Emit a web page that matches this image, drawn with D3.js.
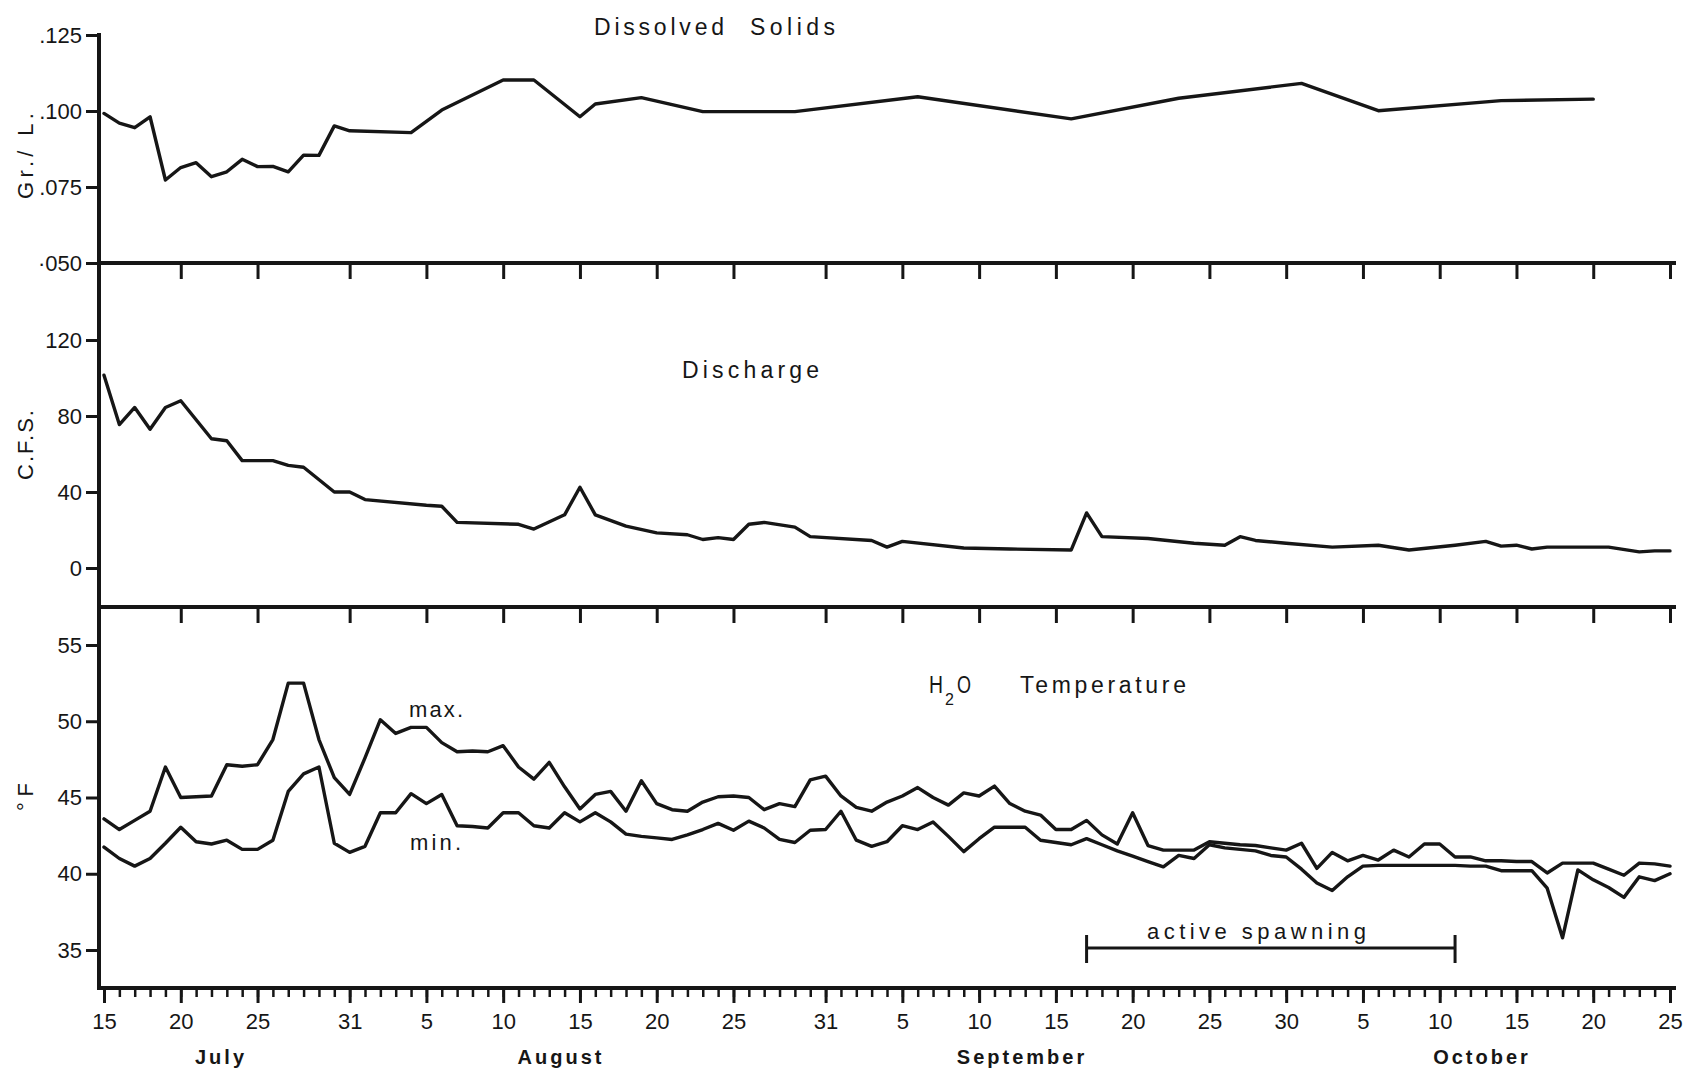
<!DOCTYPE html>
<html>
<head>
<meta charset="utf-8">
<script src="https://cdn.jsdelivr.net/npm/d3@7"></script>
<style>
  html, body { margin: 0; padding: 0; background: #fff; }
  svg { display: block; }
  text { font-family: "Liberation Sans", Arial, sans-serif; fill: #161616; }
</style>
</head>
<body>
<svg id="chart" width="1690" height="1073"></svg>
<script>
// ---- Season calendar: day 0 = July 15, day 102 = October 25 ----
const tickDays   = [0, 5, 10, 16, 21, 26, 31, 36, 41, 47, 52, 57, 62, 67, 72, 77, 82, 87, 92, 97, 102];
const tickLabels = ["15","20","25","31","5","10","15","20","25","31","5","10","15","20","25","30","5","10","15","20","25"];
const months     = ["July", "August", "September", "October"];

// ---- Dissolved solids, grams per litre ----
const solidsDay = [0, 1, 2, 3, 4, 5, 6, 7, 8, 9, 10, 11, 12, 13, 14, 15, 16, 20, 22, 26, 28, 31, 32, 35, 39, 45, 53, 63, 70, 78, 83, 91, 97];
const solidsGrL = [0.0992, 0.0960, 0.0945, 0.0981, 0.0773, 0.0814, 0.0830, 0.0784, 0.0800, 0.0841, 0.0817, 0.0818, 0.0800, 0.0855, 0.0854,
                   0.0951, 0.0935, 0.0929, 0.1003, 0.1102, 0.1102, 0.0981, 0.1023, 0.1044, 0.0998, 0.0998, 0.1047, 0.0974, 0.1042,
                   0.1091, 0.1001, 0.1034, 0.1039];
const solidsTicks      = [0.125, 0.100, 0.075, 0.050];
const solidsTickLabels = [".125", ".100", ".075", "\u00b7050"];

// ---- Discharge, cubic feet per second ----
const dischargeDay = [0, 1, 2, 3, 4, 5, 6, 7, 8, 9, 11, 12, 13, 15, 16, 17, 21, 22, 23, 27, 28, 30, 31, 32, 34, 36, 38, 39, 40, 41, 42, 43,
                      45, 46, 50, 51, 52, 56, 59, 63, 64, 65, 68, 71, 73, 74, 75, 77, 80, 83, 85, 88, 90, 91, 92, 93, 94, 98, 100, 101, 102];
const dischargeCfs = [101.5, 75.5, 84.5, 73, 84.5, 88, 78, 68, 67, 56.5, 56.5, 54, 53, 40, 40, 36, 33, 32.5, 24, 23, 20.5, 28, 42.5, 28,
                      22, 18.5, 17.5, 15, 16, 15, 23, 24, 21.5, 16.5, 14.5, 11, 14, 10.5, 10, 9.5, 29, 16.5, 15.5, 13, 12, 16.5, 14.5, 13,
                      11, 12, 9.5, 12, 14, 11.5, 12, 10, 11, 11, 8.5, 9, 9];
const dischargeTicks = [0, 40, 80, 120];

// ---- Water temperature, daily maximum and minimum, degrees F ----
const tempMax = [
  43.6, 42.9, 43.5, 44.1, 47.0, 45.0, 45.05, 45.1, 47.15, 47.05,
  47.15, 48.8, 52.5, 52.5, 48.8, 46.3, 45.2, 47.6, 50.1, 49.2,
  49.6, 49.6, 48.6, 48.0, 48.05, 48.0, 48.4, 47.0, 46.2, 47.3,
  45.7, 44.25, 45.2, 45.4, 44.1, 46.1, 44.6, 44.2, 44.1, 44.7,
  45.05, 45.1, 45.0, 44.2, 44.6, 44.4, 46.15, 46.4, 45.1, 44.35,
  44.1, 44.7, 45.1, 45.65, 45.0, 44.5, 45.3, 45.1, 45.75, 44.6,
  44.1, 43.85, 42.9, 42.9, 43.5, 42.55, 41.95, 44.0, 41.85, 41.55,
  41.55, 41.55, 42.1, 42.0, 41.9, 41.85, 41.7, 41.55, 42.0, 40.35,
  41.4, 40.85, 41.2, 40.9, 41.55, 41.1, 41.95, 41.95, 41.1, 41.1,
  40.85, 40.85, 40.8, 40.8, 40.05, 40.7, 40.7, 40.7, 40.3, 39.9,
  40.7, 40.65, 40.5
];
const tempMin = [
  41.75, 41.0, 40.5, 41.0, 42.0, 43.05, 42.1, 41.95, 42.2, 41.6,
  41.6, 42.2, 45.4, 46.55, 47.0, 42.0, 41.4, 41.8, 44.0, 44.0,
  45.25, 44.6, 45.2, 43.15, 43.1, 43.0, 44.0, 44.0, 43.15, 43.0,
  44.0, 43.4, 44.0, 43.4, 42.6, 42.45, 42.35, 42.25, 42.55, 42.9,
  43.3, 42.85, 43.45, 43.0, 42.25, 42.05, 42.85, 42.9, 44.1, 42.2,
  41.8, 42.1, 43.15, 42.9, 43.4, 42.45, 41.45, 42.3, 43.05, 43.05,
  43.05, 42.2, 42.05, 41.9, 42.3, 41.9, 41.5, 41.15, 40.8, 40.45,
  41.2, 41.0, 41.9, 41.7, 41.6, 41.5, 41.2, 41.1, 40.3, 39.4,
  38.9, 39.8, 40.5, 40.55, 40.55, 40.55, 40.55, 40.55, 40.55, 40.5,
  40.5, 40.2, 40.2, 40.2, 39.05, 35.8, 40.25, 39.6, 39.1, 38.45,
  39.8, 39.55, 40.0
];
const tempTicks = [35, 40, 45, 50, 55];

// Active spawning period: September 17 to October 11
const spawnDays = [64, 88];

// ---------------------------------------------------------------------
const ink = "#161616";
const svg = d3.select("#chart");

const x = d3.scaleLinear().domain([0, 102]).range([104, 1670]);
const axisLeftX = 99, axisRightX = 1676;
const sepSolids = 263, sepFlow = 607, sepTemp = 988;

const ySolids = d3.scaleLinear().domain([0.05, 0.125]).range([263, 35]);
const yFlow   = d3.scaleLinear().domain([0, 120]).range([568, 340]);
const yTemp   = d3.scaleLinear().domain([35, 55]).range([950, 645]);

function styleAxis(g, fontSize) {
  g.select(".domain").remove();
  g.selectAll(".tick line").attr("stroke", ink).attr("stroke-width", 3);
  g.selectAll(".tick text")
    .attr("fill", ink)
    .style("font-family", '"Liberation Sans", Arial, sans-serif')
    .style("font-size", fontSize + "px");
}

// Vertical axis spine running through all three panels
svg.append("line")
  .attr("x1", axisLeftX).attr("x2", axisLeftX)
  .attr("y1", 33).attr("y2", sepTemp + 1.5)
  .attr("stroke", ink).attr("stroke-width", 4);

// Panel base lines
[sepSolids, sepFlow, sepTemp].forEach(y => {
  svg.append("line")
    .attr("x1", axisLeftX - 2).attr("x2", axisRightX)
    .attr("y1", y).attr("y2", y)
    .attr("stroke", ink).attr("stroke-width", 4);
});

// Date ticks hanging from the two upper base lines
[sepSolids, sepFlow].forEach(y => {
  svg.append("g")
    .attr("transform", `translate(0,${y})`)
    .call(d3.axisBottom(x).tickValues(tickDays.slice(1)).tickSize(16).tickFormat(""))
    .call(g => styleAxis(g, 20));
});

// Bottom date axis: daily minor ticks plus labelled ticks
svg.append("g")
  .attr("transform", `translate(0,${sepTemp})`)
  .call(d3.axisBottom(x).tickValues(d3.range(0, 103)).tickSize(9).tickFormat(""))
  .call(g => { styleAxis(g, 20); g.selectAll(".tick line").attr("stroke-width", 2.5); });

svg.append("g")
  .attr("transform", `translate(0,${sepTemp})`)
  .call(d3.axisBottom(x).tickValues(tickDays).tickSize(15).tickPadding(10)
          .tickFormat((d, i) => tickLabels[i]))
  .call(g => styleAxis(g, 22));

// Month names under the day numbers
const monthX = [221, 561, 1022, 1482];
svg.append("g").selectAll("text")
  .data(months)
  .join("text")
  .attr("x", (d, i) => monthX[i])
  .attr("y", 1064)
  .attr("text-anchor", "middle")
  .style("font-size", "20px")
  .style("font-weight", "bold")
  .style("letter-spacing", "3px")
  .text(d => d);

// Left value axes
svg.append("g")
  .attr("transform", `translate(${axisLeftX},0)`)
  .call(d3.axisLeft(ySolids).tickValues(solidsTicks).tickSize(13).tickPadding(4)
          .tickFormat((d, i) => solidsTickLabels[i]))
  .call(g => styleAxis(g, 22));

svg.append("g")
  .attr("transform", `translate(${axisLeftX},0)`)
  .call(d3.axisLeft(yFlow).tickValues(dischargeTicks).tickSize(13).tickPadding(4))
  .call(g => styleAxis(g, 22));

svg.append("g")
  .attr("transform", `translate(${axisLeftX},0)`)
  .call(d3.axisLeft(yTemp).tickValues(tempTicks).tickSize(13).tickPadding(4))
  .call(g => styleAxis(g, 22));

// Unit labels along the vertical axis
function unitLabel(txt, cx, cy, len) {
  svg.append("text")
    .attr("transform", `translate(${cx},${cy}) rotate(-90)`)
    .attr("text-anchor", "middle")
    .attr("dominant-baseline", "central")
    .attr("textLength", len)
    .style("font-size", "22px")
    .text(txt);
}
unitLabel("Gr./ L.", 25, 156, 86);
unitLabel("C.F.S.", 25, 445, 70);
unitLabel("\u00b0F", 25, 797, 28);

// Series lines
const lineOf = (ys) => d3.line().x(d => x(d[0])).y(d => ys(d[1]));
function drawSeries(pts, ys) {
  svg.append("path")
    .datum(pts)
    .attr("d", lineOf(ys))
    .attr("fill", "none")
    .attr("stroke", ink)
    .attr("stroke-width", 3.4)
    .attr("stroke-linejoin", "round")
    .attr("stroke-linecap", "round");
}
drawSeries(solidsDay.map((d, i) => [d, solidsGrL[i]]), ySolids);
drawSeries(dischargeDay.map((d, i) => [d, dischargeCfs[i]]), yFlow);
drawSeries(tempMax.map((v, i) => [i, v]), yTemp);
drawSeries(tempMin.map((v, i) => [i, v]), yTemp);

// Panel titles and annotations
function label(txt, px, py, size, len, squeeze) {
  const t = svg.append("text")
    .attr("x", px).attr("y", py)
    .style("font-size", size + "px")
    .text(txt);
  if (len) t.attr("textLength", len);
  if (squeeze) t.attr("lengthAdjust", "spacingAndGlyphs");
  return t;
}
label("Dissolved", 594, 35, 23, 130);
label("Solids", 750, 35, 23, 85);
label("Discharge", 682, 378, 23, 137);
label("H", 929, 693, 23, 14, true);
label("2", 945, 705, 16);
label("O", 957, 693, 23, 14, true);
label("Temperature", 1020, 693, 23, 166);
label("max.", 409, 717, 22, 54);
label("min.", 410, 850, 22, 51);
label("active spawning", 1147, 939, 22, 219);

// Spawning period bar
const spawnY = 948;
svg.append("line")
  .attr("x1", x(spawnDays[0])).attr("x2", x(spawnDays[1]))
  .attr("y1", spawnY).attr("y2", spawnY)
  .attr("stroke", ink).attr("stroke-width", 3);
svg.selectAll(".spawn-cap")
  .data(spawnDays)
  .join("line")
  .attr("class", "spawn-cap")
  .attr("x1", d => x(d)).attr("x2", d => x(d))
  .attr("y1", spawnY - 13).attr("y2", spawnY + 15)
  .attr("stroke", ink).attr("stroke-width", 3);
</script>
</body>
</html>
